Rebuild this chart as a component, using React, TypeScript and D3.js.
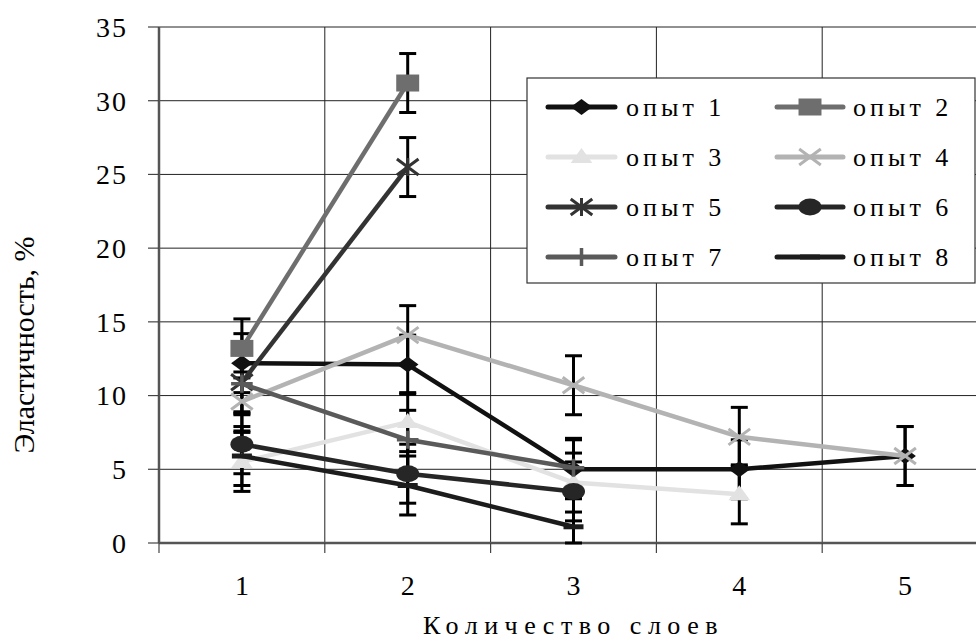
import React from "react";
import * as d3 from "d3";

const categories = [1, 2, 3, 4, 5];
const yTicks = [0, 5, 10, 15, 20, 25, 30, 35];
const errorValue = 2;

const seriesNames = ["опыт 1", "опыт 2", "опыт 3", "опыт 4", "опыт 5", "опыт 6", "опыт 7", "опыт 8"];
const s1 = [12.2, 12.1, 5.0, 5.0, 5.9];
const s2 = [13.2, 31.2, null, null, null];
const s3 = [5.5, 8.2, 4.1, 3.3, null];
const s4 = [9.6, 14.1, 10.7, 7.2, 5.9];
const s5 = [10.9, 25.5, null, null, null];
const s6 = [6.7, 4.7, 3.5, null, null];
const s7 = [10.8, 7.0, 5.1, null, null];
const s8 = [5.9, 3.9, 1.1, null, null];
const seriesValues: (number | null)[][] = [s1, s2, s3, s4, s5, s6, s7, s8];
const seriesColors = ["#111111", "#6e6e6e", "#e2e2e2", "#b3b3b3", "#333333", "#262626", "#5a5a5a", "#1c1c1c"];
const seriesMarkers = ["diamond", "square", "triangle", "x", "asterisk", "circle", "plus", "dash"];

const FONT = '"Liberation Serif", "Times New Roman", Times, "DejaVu Serif", serif';
const SX = 1.35;

function Marker({ type, cx, cy, color }: { type: string; cx: number; cy: number; color: string }) {
  const h = 8;
  switch (type) {
    case "diamond":
      return <path d={`M${cx},${cy - h} L${cx + h * SX},${cy} L${cx},${cy + h} L${cx - h * SX},${cy} Z`} fill={color} />;
    case "square":
      return <rect x={cx - 8.5 * SX} y={cy - 8.5} width={17 * SX} height={17} fill={color} />;
    case "triangle":
      return <path d={`M${cx},${cy - 9} L${cx + 8 * SX},${cy + 6} L${cx - 8 * SX},${cy + 6} Z`} fill={color} />;
    case "circle":
      return <ellipse cx={cx} cy={cy} rx={8.5 * SX} ry={8.5} fill={color} />;
    case "x":
      return (
        <path
          d={`M${cx - h * SX},${cy - h} L${cx + h * SX},${cy + h} M${cx - h * SX},${cy + h} L${cx + h * SX},${cy - h}`}
          stroke={color}
          strokeWidth={3}
          fill="none"
        />
      );
    case "asterisk":
      return (
        <path
          d={`M${cx - h * SX},${cy - h} L${cx + h * SX},${cy + h} M${cx - h * SX},${cy + h} L${cx + h * SX},${cy - h} M${cx},${cy - h - 1} L${cx},${cy + h + 1}`}
          stroke={color}
          strokeWidth={3}
          fill="none"
        />
      );
    case "plus":
      return (
        <path
          d={`M${cx - h * SX},${cy} L${cx + h * SX},${cy} M${cx},${cy - h - 1} L${cx},${cy + h + 1}`}
          stroke={color}
          strokeWidth={3.5}
          fill="none"
        />
      );
    case "dash":
      return <rect x={cx - 10} y={cy - 2.5} width={20} height={5} fill={color} />;
    default:
      return null;
  }
}

export default function App() {
  const W = 976;
  const H = 639;
  const y = d3.scaleLinear().domain([0, 35]).range([543, 27]);
  const x = d3.scaleBand<number>().domain(categories).range([159, 988]).padding(0);
  const bw = x.bandwidth();
  const cx = (c: number) => (x(c) as number) + bw / 2;
  const left = 159;
  const right = 988;
  const bottom = y(0);
  const top = y(35);

  const line = d3
    .line<[number, number | null]>()
    .defined((d) => d[1] != null)
    .x((d) => cx(d[0]))
    .y((d) => y(d[1] as number));

  const boundaries = categories.map((c) => x(c) as number).concat([right]);

  const legendRows = [0, 1, 2, 3];
  const legendY = (r: number) => 107 + r * 50;
  const legendCols = [
    { lx1: 548, lx2: 615, tx: 626 },
    { lx1: 777, lx2: 843, tx: 853 },
  ];
  const textStyle = { fontFamily: FONT };

  return (
    <svg width={W} height={H} style={{ position: "absolute", left: 0, top: 0, background: "#fff" }}>
      <rect x={0} y={0} width={W} height={H} fill="#fff" />
      {yTicks.map((t) => (
        <line key={"hg" + t} x1={left} x2={right} y1={y(t)} y2={y(t)} stroke="#222" strokeWidth={1} />
      ))}
      {boundaries.slice(1).map((b, i) => (
        <line key={"vg" + i} x1={b} x2={b} y1={top} y2={bottom} stroke="#222" strokeWidth={1} />
      ))}
      <line x1={left} x2={left} y1={top} y2={bottom} stroke="#555" strokeWidth={2.5} />
      <line x1={left} x2={right} y1={bottom} y2={bottom} stroke="#555" strokeWidth={2.5} />
      {yTicks.map((t) => (
        <line key={"yt" + t} x1={left - 11} x2={left} y1={y(t)} y2={y(t)} stroke="#444" strokeWidth={1.2} />
      ))}
      {boundaries.map((b, i) => (
        <line key={"xt" + i} x1={b} x2={b} y1={bottom} y2={bottom + 10} stroke="#444" strokeWidth={1.2} />
      ))}
      {yTicks.map((t) => (
        <text
          key={"yl" + t}
          x={128}
          y={y(t)}
          dy="0.35em"
          textAnchor="end"
          style={textStyle}
          fontSize={28}
          letterSpacing={2}
          fill="#000"
        >
          {t}
        </text>
      ))}
      {categories.map((c) => (
        <text key={"xl" + c} x={cx(c)} y={595} textAnchor="middle" style={textStyle} fontSize={28} fill="#000">
          {c}
        </text>
      ))}
      <text x={cx(3)} y={634} textAnchor="middle" style={textStyle} fontSize={26} letterSpacing={6.5} fill="#000">
        Количество слоев
      </text>
      <text transform={`translate(34, 345) rotate(-90)`} textAnchor="middle" style={textStyle} fontSize={30} fill="#000">
        Эластичность, %
      </text>
      {seriesValues.map((vals, si) =>
        vals.map((v, i) => {
          if (v == null) return null;
          const px = cx(categories[i]);
          const yTop = y(v + errorValue);
          const yBot = y(Math.max(v - errorValue, 0));
          return (
            <g key={`eb${si}-${i}`} stroke="#000" strokeWidth={3}>
              <line x1={px} x2={px} y1={yTop} y2={yBot} />
              <line x1={px - 8.5} x2={px + 8.5} y1={yTop} y2={yTop} />
              <line x1={px - 8.5} x2={px + 8.5} y1={yBot} y2={yBot} />
            </g>
          );
        })
      )}
      {seriesValues.map((vals, si) => {
        const pts: [number, number | null][] = vals.map((v, i) => [categories[i], v]);
        return (
          <g key={"s" + si}>
            <path d={line(pts) || ""} fill="none" stroke={seriesColors[si]} strokeWidth={4.5} strokeLinejoin="round" />
            {vals.map((v, i) =>
              v == null ? null : (
                <Marker key={i} type={seriesMarkers[si]} cx={cx(categories[i])} cy={y(v)} color={seriesColors[si]} />
              )
            )}
          </g>
        );
      })}
      <rect x={527} y={78} width={448} height={205} fill="#fff" stroke="#333" strokeWidth={1.2} />
      {seriesNames.map((name, si) => {
        const r = legendRows[Math.floor(si / 2)];
        const col = legendCols[si % 2];
        const ly = legendY(r);
        return (
          <g key={"lg" + si}>
            <line
              x1={col.lx1}
              x2={col.lx2}
              y1={ly}
              y2={ly}
              stroke={seriesColors[si]}
              strokeWidth={5}
              strokeLinecap="round"
            />
            <Marker type={seriesMarkers[si]} cx={(col.lx1 + col.lx2) / 2} cy={ly} color={seriesColors[si]} />
            <text x={col.tx} y={ly} dy="0.33em" style={textStyle} fontSize={26} letterSpacing={4} fill="#000">
              {name}
            </text>
          </g>
        );
      })}
    </svg>
  );
}
